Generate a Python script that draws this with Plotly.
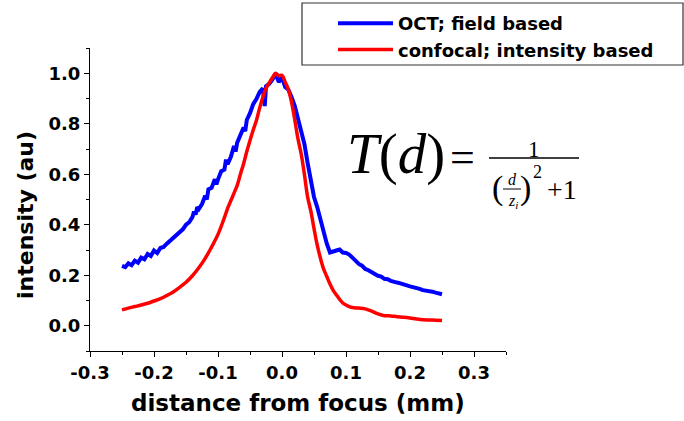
import plotly.graph_objects as go

# ---- data ----
oct_x = [-0.250, -0.245, -0.240, -0.235, -0.230, -0.225, -0.220, -0.215, -0.210, -0.205,
         -0.200, -0.195, -0.190, -0.185, -0.180, -0.175, -0.170, -0.165, -0.160, -0.155,
         -0.150, -0.145, -0.140, -0.1375, -0.135, -0.1325, -0.130, -0.125, -0.120, -0.1175,
         -0.115, -0.110, -0.105, -0.1025, -0.100, -0.095, -0.090, -0.0875, -0.085, -0.080,
         -0.075, -0.0725, -0.070, -0.065, -0.060, -0.0575, -0.055, -0.050, -0.045, -0.040,
         -0.035, -0.030, -0.027, -0.025, -0.020, -0.015, -0.010, -0.005,
         0.000, 0.005, 0.010, 0.015, 0.020, 0.025, 0.030, 0.035, 0.040, 0.045,
         0.050, 0.055, 0.060, 0.065, 0.070, 0.075, 0.080, 0.085, 0.090, 0.095,
         0.100, 0.105, 0.110, 0.115, 0.120, 0.125, 0.130, 0.135, 0.140, 0.145,
         0.150, 0.155, 0.160, 0.165, 0.170, 0.175, 0.180, 0.185, 0.190, 0.195,
         0.200, 0.205, 0.210, 0.215, 0.220, 0.225, 0.230, 0.235, 0.240, 0.245, 0.250]
oct_y = [0.237, 0.232, 0.247, 0.240, 0.258, 0.250, 0.270, 0.263, 0.284, 0.276,
         0.298, 0.288, 0.308, 0.312, 0.325, 0.336, 0.350, 0.358, 0.374, 0.382,
         0.400, 0.410, 0.430, 0.452, 0.440, 0.470, 0.462, 0.482, 0.515, 0.500,
         0.540, 0.546, 0.580, 0.560, 0.580, 0.612, 0.618, 0.658, 0.640, 0.668,
         0.712, 0.690, 0.725, 0.752, 0.785, 0.770, 0.815, 0.842, 0.878, 0.898,
         0.925, 0.940, 0.870, 0.948, 0.958, 0.975, 0.998, 0.965,
         0.985, 0.945, 0.935, 0.905, 0.870, 0.820, 0.775, 0.720, 0.645, 0.580,
         0.510, 0.470, 0.420, 0.370, 0.325, 0.290, 0.292, 0.298, 0.302, 0.290,
         0.288, 0.282, 0.270, 0.255, 0.245, 0.238, 0.225, 0.220, 0.210, 0.205,
         0.198, 0.195, 0.186, 0.184, 0.178, 0.176, 0.171, 0.168, 0.166, 0.160,
         0.156, 0.154, 0.148, 0.146, 0.141, 0.140, 0.136, 0.135, 0.131, 0.128, 0.125]

conf_x = [-0.250, -0.240, -0.230, -0.220, -0.210, -0.200, -0.190, -0.180, -0.170, -0.160,
          -0.150, -0.140, -0.130, -0.120, -0.110, -0.100, -0.090, -0.085, -0.080, -0.075,
          -0.070, -0.065, -0.060, -0.055, -0.050, -0.045, -0.040, -0.035, -0.030, -0.025,
          -0.020, -0.015, -0.010, -0.005, 0.000, 0.005, 0.010, 0.015, 0.020, 0.025,
          0.030, 0.035, 0.040, 0.045, 0.050, 0.055, 0.060, 0.065, 0.070, 0.075,
          0.080, 0.085, 0.090, 0.095, 0.100, 0.105, 0.110, 0.120, 0.130, 0.140,
          0.150, 0.160, 0.170, 0.180, 0.190, 0.200, 0.210, 0.220, 0.230, 0.240, 0.250]
conf_y = [0.063, 0.070, 0.076, 0.082, 0.089, 0.098, 0.107, 0.120, 0.134, 0.152,
          0.172, 0.198, 0.230, 0.267, 0.312, 0.362, 0.428, 0.465, 0.495, 0.525,
          0.556, 0.600, 0.642, 0.690, 0.734, 0.775, 0.813, 0.862, 0.905, 0.940,
          0.962, 0.982, 1.000, 0.990, 0.992, 0.965, 0.935, 0.885, 0.815, 0.740,
          0.680, 0.600, 0.510, 0.455, 0.385, 0.320, 0.268, 0.225, 0.195, 0.165,
          0.140, 0.122, 0.105, 0.090, 0.082, 0.076, 0.072, 0.070, 0.067, 0.058,
          0.047, 0.040, 0.039, 0.036, 0.034, 0.031, 0.027, 0.024, 0.023, 0.022, 0.021]

series_names = ["OCT; field based", "confocal; intensity based"]
x_tickvals = [-0.3, -0.2, -0.1, 0.0, 0.1, 0.2, 0.3]
x_ticktext = ["-0.3", "-0.2", "-0.1", "0.0", "0.1", "0.2", "0.3"]
y_tickvals = [0.0, 0.2, 0.4, 0.6, 0.8, 1.0]
y_ticktext = ["0.0", "0.2", "0.4", "0.6", "0.8", "1.0"]

W, H = 684, 421
# plot area in pixels (left, right, top, bottom)
PL, PR, PT, PB = 90, 506, 48, 351


def px(x):
    return x / W


def py(y):
    return 1 - y / H


SANS = "DejaVu Sans"
SERIF = "Liberation Serif"

fig = go.Figure()
fig.add_trace(go.Scatter(x=oct_x, y=oct_y, mode="lines", name=series_names[0],
                         line=dict(color="#0000FF", width=4)))
fig.add_trace(go.Scatter(x=conf_x, y=conf_y, mode="lines", name=series_names[1],
                         line=dict(color="#FF0000", width=3.5, shape="spline")))

axis_common = dict(showline=True, linecolor="black", linewidth=1.2, ticks="outside",
                   ticklen=5, tickwidth=1.2, tickcolor="black", showgrid=False,
                   zeroline=False, mirror=False, automargin=False,
                   tickfont=dict(family=SANS, size=18, color="black", weight="bold"))

fig.update_layout(
    width=W, height=H, margin=dict(l=0, r=0, t=0, b=0, autoexpand=False),
    paper_bgcolor="white", plot_bgcolor="white",
    xaxis=dict(domain=[px(PL), px(PR)], range=[-0.3, 0.35],
               tickvals=x_tickvals, ticktext=x_ticktext,
               minor=dict(dtick=0.05, tick0=-0.3, ticks="outside", ticklen=3,
                          tickcolor="black", tickwidth=1.2),
               **axis_common),
    yaxis=dict(domain=[py(PB), py(PT)], range=[-0.1, 1.1],
               tickvals=y_tickvals, ticktext=y_ticktext,
               minor=dict(dtick=0.1, tick0=0, ticks="outside", ticklen=3,
                          tickcolor="black", tickwidth=1.2),
               **axis_common),
    showlegend=True,
    legend=dict(x=px(333), y=py(5), xanchor="left", yanchor="top",
                bgcolor="rgba(0,0,0,0)", borderwidth=0, itemwidth=55,
                font=dict(family=SANS, size=18, color="black", weight="bold"),
                tracegroupgap=0),
)

# axis titles
fig.add_annotation(text="distance from focus (mm)", xref="paper", yref="paper",
                   x=px(298), y=py(403), xanchor="center", yanchor="middle",
                   showarrow=False,
                   font=dict(family=SANS, size=23, color="black", weight="bold"))
fig.add_annotation(text="intensity (au)", xref="paper", yref="paper",
                   x=px(25), y=py(215), xanchor="center", yanchor="middle",
                   textangle=-90, showarrow=False,
                   font=dict(family=SANS, size=22, color="black", weight="bold"))

# legend box
fig.add_shape(type="rect", xref="paper", yref="paper",
              x0=px(302), x1=px(683), y0=py(65), y1=py(3),
              line=dict(color="#333333", width=1.2), fillcolor="rgba(0,0,0,0)", layer="below")

# formula T(d) = 1 / ((d/z_i)^2 + 1)
def ann(text, x, y, size, xanchor="center"):
    fig.add_annotation(text=text, xref="paper", yref="paper", x=px(x), y=py(y),
                       xanchor=xanchor, yanchor="middle", showarrow=False,
                       borderpad=0,
                       font=dict(family=SERIF, size=size, color="black"))

ann("<i>T</i>(<i>d</i>)", 346, 154, 57, xanchor="left")
ann("=", 462, 157, 44)
ann("1", 534, 149, 23)
fig.add_shape(type="line", xref="paper", yref="paper", x0=px(489), x1=px(579),
              y0=py(158), y1=py(158), line=dict(color="black", width=1.5))
ann("(", 497, 188, 34)
ann("<i>d</i>", 512, 179, 16)
fig.add_shape(type="line", xref="paper", yref="paper", x0=px(503), x1=px(521),
              y0=py(189), y1=py(189), line=dict(color="black", width=1))
ann("<i>z</i><sub><i>i</i></sub>", 513, 201, 16)
ann(")", 525, 188, 34)
ann("2", 537, 172, 18)
ann("+1", 562, 190, 28)

fig.write_html("out.html")
